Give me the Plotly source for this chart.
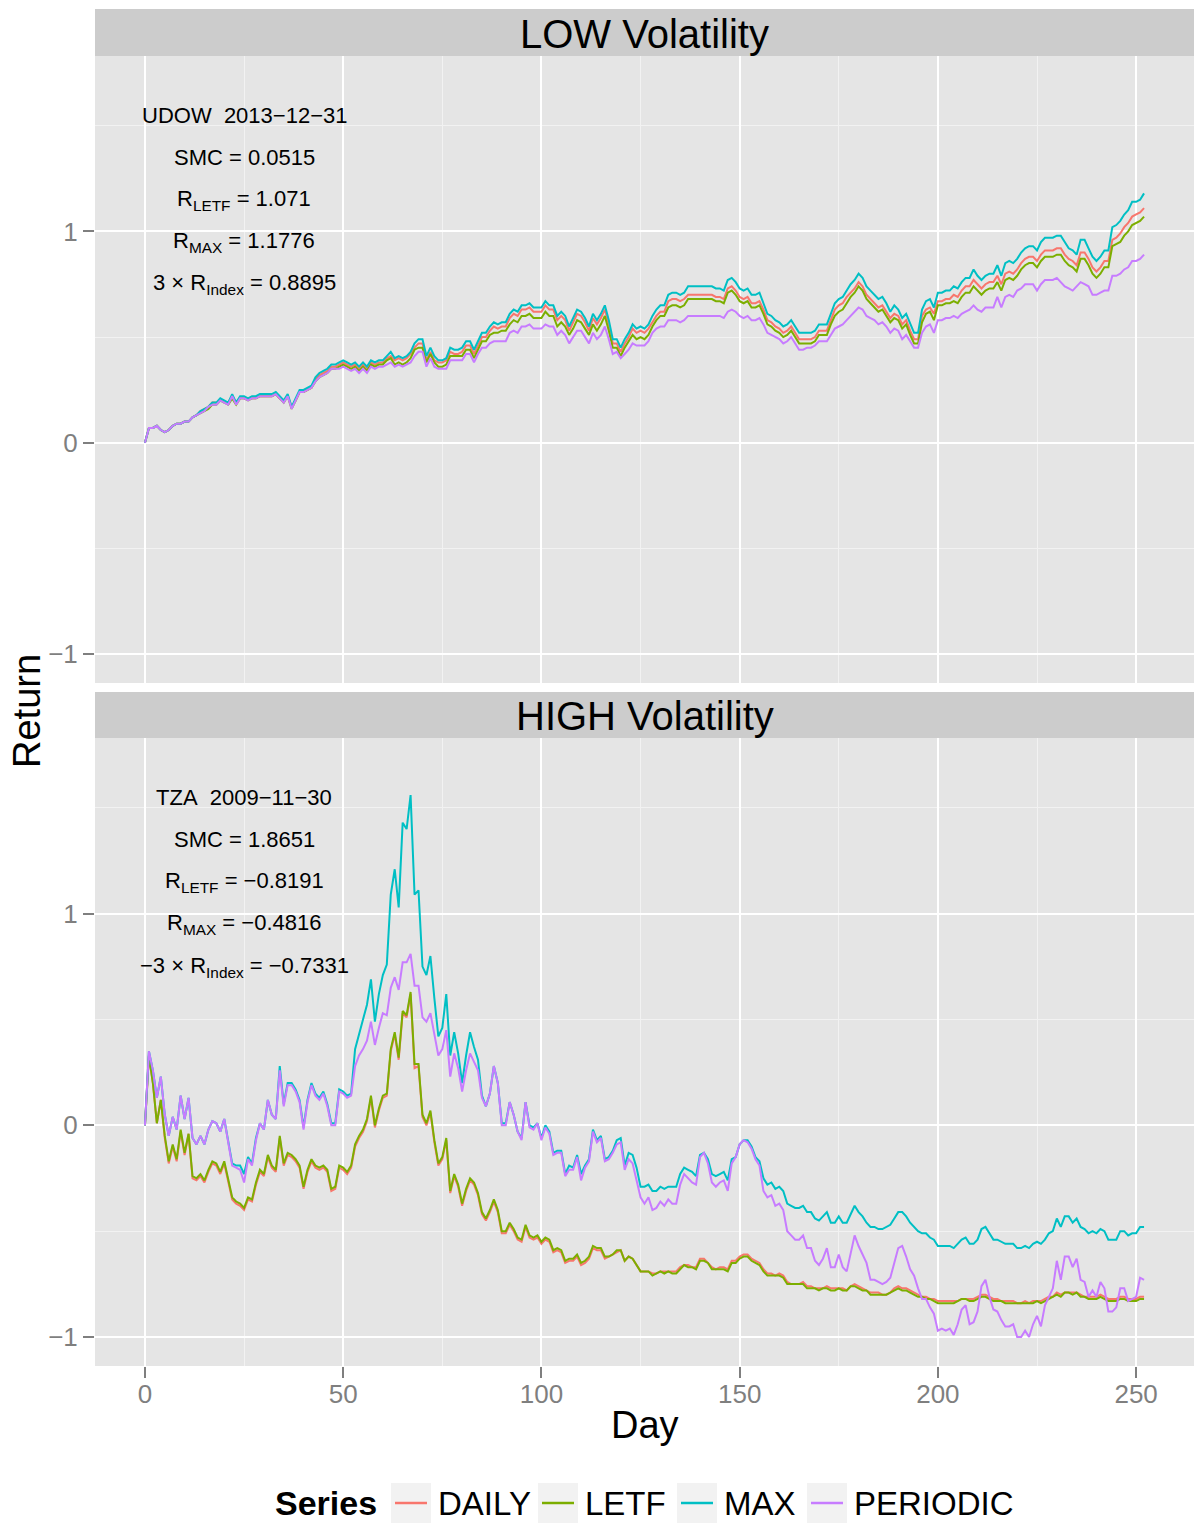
import plotly.graph_objects as go

W, H = 1195, 1524
FONT = "Liberation Sans, Arial, Helvetica, sans-serif"

days = list(range(253))
series_names = ["DAILY", "LETF", "MAX", "PERIODIC"]
series_colors = ["#F8766D", "#7CAE00", "#00BFC4", "#C77CFF"]

# LOW volatility panel (UDOW)
low_daily = [
    0.00, 0.07, 0.07, 0.08, 0.06, 0.05, 0.06, 0.08, 0.09, 0.09,
    0.10, 0.10, 0.12, 0.13, 0.15, 0.16, 0.17, 0.19, 0.19, 0.20,
    0.19, 0.19, 0.22, 0.19, 0.21, 0.21, 0.21, 0.21, 0.21, 0.22,
    0.22, 0.22, 0.22, 0.23, 0.21, 0.20, 0.22, 0.17, 0.20, 0.24,
    0.24, 0.25, 0.26, 0.30, 0.32, 0.33, 0.34, 0.36, 0.36, 0.37,
    0.38, 0.37, 0.36, 0.37, 0.35, 0.37, 0.35, 0.38, 0.37, 0.38,
    0.38, 0.40, 0.41, 0.39, 0.40, 0.39, 0.40, 0.42, 0.45, 0.47,
    0.47, 0.39, 0.43, 0.39, 0.38, 0.38, 0.39, 0.43, 0.42, 0.42,
    0.43, 0.46, 0.46, 0.42, 0.46, 0.50, 0.50, 0.53, 0.55, 0.54,
    0.55, 0.55, 0.59, 0.61, 0.60, 0.63, 0.63, 0.64, 0.62, 0.62,
    0.62, 0.65, 0.63, 0.63, 0.58, 0.60, 0.58, 0.53, 0.57, 0.61,
    0.60, 0.57, 0.53, 0.59, 0.56, 0.59, 0.63, 0.56, 0.47, 0.47,
    0.43, 0.47, 0.50, 0.54, 0.52, 0.53, 0.52, 0.54, 0.57, 0.60,
    0.62, 0.62, 0.67, 0.68, 0.68, 0.67, 0.68, 0.70, 0.70, 0.70,
    0.70, 0.70, 0.70, 0.70, 0.69, 0.69, 0.68, 0.73, 0.74, 0.72,
    0.69, 0.68, 0.69, 0.66, 0.66, 0.67, 0.63, 0.58, 0.57, 0.55,
    0.54, 0.52, 0.53, 0.55, 0.52, 0.49, 0.49, 0.49, 0.49, 0.50,
    0.53, 0.53, 0.53, 0.58, 0.63, 0.65, 0.66, 0.69, 0.71, 0.73,
    0.76, 0.74, 0.70, 0.68, 0.66, 0.64, 0.65, 0.62, 0.59, 0.61,
    0.60, 0.56, 0.58, 0.53, 0.49, 0.49, 0.60, 0.63, 0.64, 0.61,
    0.67, 0.67, 0.68, 0.68, 0.70, 0.69, 0.72, 0.74, 0.74, 0.77,
    0.75, 0.73, 0.75, 0.76, 0.76, 0.79, 0.75, 0.80, 0.81, 0.80,
    0.82, 0.85, 0.87, 0.88, 0.88, 0.86, 0.89, 0.91, 0.91, 0.91,
    0.92, 0.92, 0.89, 0.87, 0.86, 0.84, 0.90, 0.90, 0.87, 0.83,
    0.81, 0.83, 0.86, 0.86, 0.96, 0.97, 0.99, 1.02, 1.04, 1.07,
    1.08, 1.09, 1.11,
]
low_letf = [
    0.00, 0.07, 0.07, 0.08, 0.06, 0.05, 0.06, 0.08, 0.09, 0.09,
    0.10, 0.10, 0.12, 0.13, 0.14, 0.15, 0.16, 0.18, 0.18, 0.20,
    0.19, 0.18, 0.21, 0.18, 0.21, 0.21, 0.20, 0.21, 0.21, 0.22,
    0.22, 0.22, 0.22, 0.23, 0.21, 0.19, 0.22, 0.16, 0.20, 0.24,
    0.24, 0.25, 0.26, 0.29, 0.31, 0.32, 0.33, 0.35, 0.35, 0.36,
    0.37, 0.36, 0.35, 0.36, 0.34, 0.36, 0.34, 0.37, 0.36, 0.37,
    0.37, 0.39, 0.40, 0.37, 0.38, 0.37, 0.38, 0.40, 0.44, 0.45,
    0.45, 0.38, 0.42, 0.38, 0.36, 0.36, 0.37, 0.41, 0.41, 0.41,
    0.41, 0.44, 0.44, 0.40, 0.44, 0.48, 0.48, 0.51, 0.52, 0.52,
    0.53, 0.53, 0.56, 0.58, 0.57, 0.60, 0.60, 0.61, 0.59, 0.59,
    0.59, 0.62, 0.60, 0.60, 0.55, 0.57, 0.55, 0.51, 0.54, 0.58,
    0.57, 0.54, 0.51, 0.56, 0.53, 0.56, 0.60, 0.53, 0.45, 0.45,
    0.41, 0.45, 0.48, 0.51, 0.49, 0.50, 0.49, 0.51, 0.55, 0.58,
    0.60, 0.60, 0.64, 0.65, 0.65, 0.64, 0.65, 0.68, 0.68, 0.68,
    0.68, 0.68, 0.68, 0.68, 0.67, 0.67, 0.66, 0.71, 0.72, 0.70,
    0.67, 0.66, 0.67, 0.64, 0.64, 0.65, 0.61, 0.56, 0.55, 0.53,
    0.52, 0.50, 0.51, 0.53, 0.50, 0.47, 0.47, 0.47, 0.47, 0.48,
    0.51, 0.51, 0.51, 0.56, 0.60, 0.62, 0.63, 0.66, 0.69, 0.71,
    0.74, 0.72, 0.68, 0.66, 0.64, 0.62, 0.63, 0.60, 0.57, 0.59,
    0.58, 0.54, 0.56, 0.51, 0.47, 0.47, 0.57, 0.61, 0.62, 0.58,
    0.65, 0.65, 0.66, 0.66, 0.67, 0.66, 0.69, 0.71, 0.71, 0.74,
    0.72, 0.70, 0.72, 0.73, 0.73, 0.76, 0.72, 0.77, 0.78, 0.77,
    0.79, 0.82, 0.84, 0.85, 0.85, 0.83, 0.86, 0.88, 0.88, 0.88,
    0.89, 0.89, 0.86, 0.84, 0.83, 0.81, 0.87, 0.87, 0.84, 0.80,
    0.78, 0.80, 0.83, 0.83, 0.93, 0.94, 0.95, 0.98, 1.00, 1.03,
    1.04, 1.05, 1.07,
]
low_max = [
    0.00, 0.07, 0.07, 0.08, 0.06, 0.05, 0.06, 0.08, 0.09, 0.09,
    0.10, 0.10, 0.12, 0.13, 0.15, 0.16, 0.17, 0.19, 0.19, 0.21,
    0.20, 0.19, 0.23, 0.19, 0.22, 0.22, 0.21, 0.22, 0.22, 0.23,
    0.23, 0.23, 0.23, 0.24, 0.22, 0.20, 0.23, 0.17, 0.21, 0.25,
    0.25, 0.26, 0.27, 0.31, 0.33, 0.34, 0.35, 0.37, 0.37, 0.38,
    0.39, 0.38, 0.37, 0.38, 0.36, 0.38, 0.36, 0.39, 0.38, 0.39,
    0.39, 0.41, 0.43, 0.40, 0.41, 0.40, 0.41, 0.43, 0.47, 0.49,
    0.49, 0.41, 0.45, 0.41, 0.39, 0.39, 0.40, 0.45, 0.44, 0.44,
    0.45, 0.48, 0.48, 0.44, 0.48, 0.52, 0.52, 0.55, 0.57, 0.56,
    0.57, 0.57, 0.61, 0.63, 0.62, 0.65, 0.65, 0.66, 0.64, 0.64,
    0.64, 0.67, 0.65, 0.65, 0.60, 0.62, 0.60, 0.55, 0.59, 0.63,
    0.62, 0.59, 0.55, 0.61, 0.58, 0.61, 0.65, 0.58, 0.49, 0.49,
    0.45, 0.49, 0.52, 0.56, 0.54, 0.55, 0.54, 0.56, 0.60, 0.63,
    0.65, 0.65, 0.70, 0.71, 0.71, 0.70, 0.71, 0.74, 0.74, 0.74,
    0.74, 0.74, 0.74, 0.74, 0.73, 0.73, 0.72, 0.77, 0.78, 0.76,
    0.73, 0.72, 0.73, 0.70, 0.70, 0.71, 0.66, 0.61, 0.60, 0.58,
    0.57, 0.55, 0.56, 0.58, 0.55, 0.52, 0.52, 0.52, 0.52, 0.53,
    0.56, 0.56, 0.56, 0.61, 0.66, 0.68, 0.69, 0.72, 0.75, 0.77,
    0.80, 0.78, 0.74, 0.72, 0.70, 0.68, 0.69, 0.66, 0.62, 0.65,
    0.63, 0.59, 0.61, 0.56, 0.52, 0.52, 0.63, 0.67, 0.68, 0.64,
    0.71, 0.71, 0.72, 0.72, 0.74, 0.73, 0.76, 0.78, 0.78, 0.82,
    0.79, 0.77, 0.79, 0.80, 0.80, 0.84, 0.79, 0.85, 0.86, 0.85,
    0.87, 0.90, 0.92, 0.93, 0.93, 0.91, 0.95, 0.97, 0.97, 0.97,
    0.98, 0.98, 0.95, 0.92, 0.91, 0.89, 0.96, 0.96, 0.92, 0.88,
    0.86, 0.88, 0.91, 0.91, 1.02, 1.03, 1.05, 1.08, 1.10, 1.14,
    1.14, 1.15, 1.18,
]
low_periodic = [
    0.00, 0.07, 0.07, 0.08, 0.06, 0.05, 0.06, 0.08, 0.09, 0.09,
    0.10, 0.10, 0.12, 0.13, 0.14, 0.15, 0.17, 0.18, 0.18, 0.20,
    0.19, 0.18, 0.22, 0.18, 0.21, 0.21, 0.20, 0.21, 0.21, 0.22,
    0.22, 0.22, 0.22, 0.23, 0.21, 0.19, 0.22, 0.16, 0.20, 0.24,
    0.24, 0.25, 0.26, 0.29, 0.31, 0.32, 0.33, 0.35, 0.35, 0.35,
    0.36, 0.35, 0.34, 0.35, 0.33, 0.35, 0.33, 0.36, 0.35, 0.36,
    0.36, 0.37, 0.38, 0.36, 0.37, 0.36, 0.37, 0.38, 0.41, 0.43,
    0.43, 0.36, 0.40, 0.36, 0.35, 0.35, 0.35, 0.39, 0.39, 0.39,
    0.39, 0.42, 0.42, 0.38, 0.42, 0.45, 0.45, 0.47, 0.48, 0.48,
    0.48, 0.48, 0.52, 0.53, 0.52, 0.55, 0.55, 0.56, 0.54, 0.54,
    0.54, 0.56, 0.55, 0.55, 0.51, 0.53, 0.51, 0.47, 0.50, 0.53,
    0.53, 0.50, 0.47, 0.52, 0.49, 0.51, 0.55, 0.49, 0.42, 0.43,
    0.40, 0.42, 0.44, 0.47, 0.46, 0.46, 0.46, 0.48, 0.52, 0.54,
    0.55, 0.55, 0.58, 0.58, 0.58, 0.57, 0.58, 0.60, 0.60, 0.60,
    0.60, 0.60, 0.60, 0.60, 0.60, 0.60, 0.59, 0.62, 0.63, 0.62,
    0.60, 0.59, 0.60, 0.58, 0.58, 0.59, 0.56, 0.52, 0.51, 0.50,
    0.49, 0.47, 0.48, 0.50, 0.47, 0.44, 0.44, 0.45, 0.45, 0.46,
    0.48, 0.48, 0.48, 0.51, 0.54, 0.55, 0.56, 0.58, 0.60, 0.62,
    0.64, 0.63, 0.60, 0.59, 0.58, 0.56, 0.57, 0.55, 0.52, 0.54,
    0.53, 0.49, 0.51, 0.48, 0.45, 0.45, 0.52, 0.55, 0.56, 0.52,
    0.58, 0.58, 0.59, 0.59, 0.60, 0.59, 0.61, 0.62, 0.63, 0.65,
    0.63, 0.62, 0.64, 0.64, 0.64, 0.69, 0.64, 0.69, 0.70, 0.69,
    0.72, 0.73, 0.75, 0.75, 0.75, 0.72, 0.75, 0.77, 0.77, 0.77,
    0.78, 0.76, 0.74, 0.73, 0.72, 0.74, 0.76, 0.75, 0.74, 0.70,
    0.70, 0.71, 0.72, 0.72, 0.79, 0.79, 0.80, 0.82, 0.83, 0.86,
    0.86, 0.87, 0.89,
]

# HIGH volatility panel (TZA)
high_daily = [
    0.00, 0.33, 0.20, 0.01, 0.12, -0.06, -0.18, -0.10, -0.17, -0.03,
    -0.14, -0.04, -0.25, -0.26, -0.24, -0.27, -0.22, -0.18, -0.19, -0.23,
    -0.18, -0.27, -0.35, -0.37, -0.38, -0.40, -0.35, -0.36, -0.28, -0.22,
    -0.24, -0.15, -0.20, -0.22, -0.06, -0.19, -0.14, -0.15, -0.17, -0.20,
    -0.30, -0.22, -0.17, -0.20, -0.21, -0.20, -0.22, -0.31, -0.30, -0.20,
    -0.21, -0.23, -0.20, -0.10, -0.06, -0.03, 0.02, 0.13, -0.01, 0.07,
    0.13, 0.14, 0.35, 0.43, 0.31, 0.53, 0.51, 0.62, 0.27, 0.28,
    0.04, 0.00, 0.06, -0.08, -0.19, -0.16, -0.07, -0.32, -0.24, -0.29,
    -0.38, -0.31, -0.26, -0.28, -0.33, -0.42, -0.45, -0.41, -0.36, -0.41,
    -0.51, -0.51, -0.47, -0.50, -0.54, -0.55, -0.48, -0.53, -0.54, -0.53,
    -0.56, -0.54, -0.55, -0.60, -0.59, -0.60, -0.65, -0.64, -0.64, -0.62,
    -0.66, -0.65, -0.63, -0.58, -0.59, -0.59, -0.63, -0.62, -0.61, -0.60,
    -0.59, -0.64, -0.62, -0.63, -0.66, -0.69, -0.69, -0.69, -0.70, -0.70,
    -0.69, -0.69, -0.69, -0.69, -0.69, -0.67, -0.66, -0.66, -0.67, -0.67,
    -0.63, -0.63, -0.65, -0.67, -0.68, -0.67, -0.67, -0.68, -0.64, -0.64,
    -0.62, -0.61, -0.61, -0.63, -0.64, -0.65, -0.68, -0.70, -0.70, -0.71,
    -0.70, -0.71, -0.74, -0.75, -0.75, -0.75, -0.74, -0.76, -0.76, -0.77,
    -0.77, -0.77, -0.76, -0.77, -0.77, -0.77, -0.77, -0.78, -0.76, -0.75,
    -0.76, -0.77, -0.78, -0.79, -0.79, -0.79, -0.80, -0.80, -0.79, -0.77,
    -0.76, -0.77, -0.77, -0.78, -0.79, -0.80, -0.81, -0.81, -0.82, -0.82,
    -0.83, -0.83, -0.83, -0.83, -0.83, -0.83, -0.82, -0.82, -0.82, -0.82,
    -0.81, -0.80, -0.80, -0.81, -0.82, -0.82, -0.83, -0.83, -0.83, -0.83,
    -0.84, -0.84, -0.83, -0.84, -0.83, -0.83, -0.83, -0.82, -0.81, -0.81,
    -0.79, -0.80, -0.79, -0.79, -0.79, -0.79, -0.80, -0.81, -0.81, -0.81,
    -0.81, -0.80, -0.81, -0.82, -0.82, -0.82, -0.81, -0.81, -0.82, -0.82,
    -0.82, -0.81, -0.81,
]
high_letf = [
    0.00, 0.33, 0.20, 0.01, 0.12, -0.05, -0.17, -0.09, -0.16, -0.02,
    -0.13, -0.04, -0.24, -0.25, -0.23, -0.26, -0.21, -0.17, -0.18, -0.22,
    -0.17, -0.26, -0.34, -0.36, -0.37, -0.39, -0.34, -0.35, -0.27, -0.21,
    -0.23, -0.14, -0.19, -0.21, -0.05, -0.18, -0.13, -0.14, -0.16, -0.19,
    -0.29, -0.21, -0.16, -0.19, -0.20, -0.19, -0.21, -0.30, -0.29, -0.19,
    -0.20, -0.22, -0.19, -0.09, -0.05, -0.02, 0.03, 0.14, 0.00, 0.08,
    0.14, 0.15, 0.36, 0.44, 0.32, 0.54, 0.52, 0.63, 0.29, 0.29,
    0.05, 0.01, 0.07, -0.07, -0.18, -0.15, -0.06, -0.31, -0.23, -0.28,
    -0.37, -0.30, -0.25, -0.27, -0.32, -0.41, -0.44, -0.40, -0.35, -0.40,
    -0.50, -0.50, -0.46, -0.49, -0.53, -0.54, -0.47, -0.52, -0.53, -0.52,
    -0.55, -0.53, -0.54, -0.59, -0.58, -0.59, -0.64, -0.63, -0.63, -0.61,
    -0.65, -0.64, -0.62, -0.57, -0.58, -0.58, -0.62, -0.62, -0.61, -0.59,
    -0.59, -0.64, -0.62, -0.63, -0.66, -0.69, -0.69, -0.69, -0.71, -0.70,
    -0.69, -0.70, -0.69, -0.70, -0.70, -0.68, -0.66, -0.67, -0.67, -0.68,
    -0.64, -0.64, -0.65, -0.68, -0.68, -0.68, -0.68, -0.69, -0.65, -0.65,
    -0.63, -0.62, -0.62, -0.64, -0.65, -0.66, -0.69, -0.71, -0.71, -0.71,
    -0.71, -0.72, -0.75, -0.75, -0.75, -0.75, -0.75, -0.77, -0.77, -0.77,
    -0.78, -0.77, -0.77, -0.78, -0.78, -0.77, -0.78, -0.78, -0.76, -0.76,
    -0.77, -0.78, -0.78, -0.80, -0.80, -0.80, -0.80, -0.80, -0.79, -0.78,
    -0.77, -0.78, -0.78, -0.79, -0.80, -0.81, -0.81, -0.82, -0.82, -0.83,
    -0.84, -0.84, -0.84, -0.84, -0.84, -0.83, -0.82, -0.82, -0.83, -0.83,
    -0.82, -0.81, -0.81, -0.82, -0.83, -0.83, -0.83, -0.84, -0.84, -0.84,
    -0.84, -0.84, -0.84, -0.84, -0.84, -0.83, -0.84, -0.83, -0.82, -0.81,
    -0.80, -0.81, -0.79, -0.79, -0.80, -0.79, -0.81, -0.81, -0.82, -0.82,
    -0.82, -0.81, -0.82, -0.83, -0.83, -0.83, -0.82, -0.82, -0.83, -0.83,
    -0.83, -0.82, -0.82,
]
high_max = [
    0.00, 0.35, 0.26, 0.13, 0.23, 0.05, -0.05, 0.04, -0.02, 0.14,
    0.03, 0.13, -0.06, -0.09, -0.05, -0.09, -0.02, 0.02, 0.01, -0.03,
    0.03, -0.08, -0.18, -0.19, -0.19, -0.23, -0.15, -0.18, -0.06, 0.01,
    -0.02, 0.12, 0.05, 0.03, 0.28, 0.10, 0.20, 0.20, 0.17, 0.12,
    -0.01, 0.12, 0.20, 0.15, 0.13, 0.16, 0.10, 0.01, 0.01, 0.17,
    0.16, 0.14, 0.15, 0.36, 0.43, 0.50, 0.57, 0.69, 0.49, 0.62,
    0.71, 0.76, 1.09, 1.21, 1.03, 1.43, 1.40, 1.56, 1.09, 1.11,
    0.75, 0.71, 0.80, 0.60, 0.42, 0.46, 0.62, 0.33, 0.44, 0.34,
    0.20, 0.33, 0.44, 0.37, 0.31, 0.14, 0.09, 0.15, 0.28, 0.20,
    0.01, 0.01, 0.11, 0.05, -0.03, -0.06, 0.11, 0.00, -0.01, 0.01,
    -0.06, 0.00, -0.03, -0.13, -0.12, -0.12, -0.23, -0.19, -0.20, -0.14,
    -0.23, -0.19, -0.16, -0.02, -0.07, -0.05, -0.16, -0.15, -0.12, -0.07,
    -0.06, -0.19, -0.13, -0.14, -0.20, -0.29, -0.29, -0.28, -0.31, -0.31,
    -0.29, -0.30, -0.29, -0.29, -0.29, -0.23, -0.20, -0.21, -0.22, -0.24,
    -0.14, -0.13, -0.16, -0.23, -0.24, -0.23, -0.22, -0.26, -0.16, -0.15,
    -0.09, -0.07, -0.07, -0.10, -0.15, -0.17, -0.25, -0.28, -0.27, -0.30,
    -0.29, -0.31, -0.37, -0.38, -0.39, -0.39, -0.38, -0.41, -0.41, -0.44,
    -0.45, -0.43, -0.41, -0.46, -0.46, -0.43, -0.46, -0.46, -0.42, -0.38,
    -0.41, -0.43, -0.46, -0.48, -0.48, -0.49, -0.49, -0.48, -0.47, -0.44,
    -0.41, -0.41, -0.43, -0.46, -0.48, -0.50, -0.51, -0.51, -0.53, -0.54,
    -0.57, -0.57, -0.57, -0.57, -0.58, -0.56, -0.54, -0.53, -0.56, -0.56,
    -0.54, -0.49, -0.48, -0.51, -0.54, -0.54, -0.55, -0.56, -0.56, -0.56,
    -0.58, -0.58, -0.57, -0.58, -0.56, -0.55, -0.56, -0.54, -0.51, -0.50,
    -0.44, -0.48, -0.43, -0.43, -0.46, -0.44, -0.48, -0.49, -0.51, -0.50,
    -0.51, -0.49, -0.50, -0.54, -0.54, -0.54, -0.50, -0.50, -0.52, -0.51,
    -0.51, -0.48, -0.48,
]
high_periodic = [
    0.00, 0.35, 0.26, 0.13, 0.23, 0.05, -0.05, 0.04, -0.02, 0.14,
    0.03, 0.13, -0.06, -0.09, -0.05, -0.09, -0.02, 0.02, 0.01, -0.03,
    0.03, -0.08, -0.19, -0.20, -0.21, -0.27, -0.16, -0.19, -0.07, 0.01,
    -0.02, 0.12, 0.05, 0.03, 0.26, 0.09, 0.19, 0.19, 0.16, 0.11,
    -0.02, 0.11, 0.19, 0.14, 0.12, 0.15, 0.09, 0.00, 0.00, 0.16,
    0.15, 0.13, 0.14, 0.28, 0.33, 0.36, 0.40, 0.49, 0.38, 0.46,
    0.53, 0.52, 0.65, 0.70, 0.64, 0.77, 0.77, 0.81, 0.66, 0.66,
    0.51, 0.49, 0.53, 0.43, 0.33, 0.36, 0.45, 0.23, 0.34, 0.27,
    0.16, 0.26, 0.34, 0.30, 0.26, 0.13, 0.09, 0.15, 0.28, 0.20,
    0.00, 0.00, 0.11, 0.05, -0.03, -0.07, 0.11, -0.01, -0.02, 0.01,
    -0.07, -0.01, -0.04, -0.14, -0.13, -0.13, -0.24, -0.21, -0.21, -0.15,
    -0.26, -0.20, -0.17, -0.03, -0.08, -0.06, -0.17, -0.16, -0.13, -0.09,
    -0.08, -0.21, -0.16, -0.18, -0.26, -0.34, -0.37, -0.34, -0.40, -0.39,
    -0.36, -0.38, -0.35, -0.37, -0.37, -0.28, -0.23, -0.25, -0.27, -0.28,
    -0.15, -0.13, -0.18, -0.27, -0.29, -0.27, -0.26, -0.31, -0.18, -0.15,
    -0.09, -0.07, -0.08, -0.11, -0.16, -0.19, -0.31, -0.34, -0.33, -0.38,
    -0.37, -0.40, -0.50, -0.52, -0.54, -0.54, -0.52, -0.58, -0.58, -0.64,
    -0.66, -0.63, -0.58, -0.67, -0.67, -0.61, -0.67, -0.69, -0.60, -0.52,
    -0.57, -0.61, -0.65, -0.73, -0.73, -0.74, -0.75, -0.74, -0.72, -0.65,
    -0.58, -0.57, -0.62, -0.68, -0.71, -0.77, -0.82, -0.82, -0.86, -0.89,
    -0.97, -0.96, -0.97, -0.96, -0.99, -0.94, -0.87, -0.85, -0.94, -0.93,
    -0.88, -0.76, -0.73, -0.81, -0.87, -0.88, -0.92, -0.95, -0.95, -0.94,
    -1.00, -1.00, -0.97, -1.00, -0.94, -0.90, -0.95, -0.85, -0.81, -0.77,
    -0.64, -0.73, -0.62, -0.62, -0.67, -0.63, -0.73, -0.74, -0.81, -0.78,
    -0.81, -0.74, -0.77, -0.88, -0.88, -0.86, -0.77, -0.77, -0.83, -0.82,
    -0.81, -0.72, -0.73,
]

panel_titles = ["LOW Volatility", "HIGH Volatility"]
low_notes = [
    "UDOW\u00a0\u00a02013\u221212\u221231",
    "SMC = 0.0515",
    "R<sub>LETF</sub> = 1.071",
    "R<sub>MAX</sub> = 1.1776",
    "3 \u00d7 R<sub>Index</sub> = 0.8895",
]
high_notes = [
    "TZA\u00a0\u00a02009\u221211\u221230",
    "SMC = 1.8651",
    "R<sub>LETF</sub> = \u22120.8191",
    "R<sub>MAX</sub> = \u22120.4816",
    "\u22123 \u00d7 R<sub>Index</sub> = \u22120.7331",
]
note_day = 25
note_y = [1.55, 1.35, 1.15, 0.95, 0.75]

x_ticks = [0, 50, 100, 150, 200, 250]
x_minor = [25, 75, 125, 175, 225]
y_ticks = [-1, 0, 1]
y_tick_text = ["\u22121", "0", "1"]
y_minor = [-0.5, 0.5, 1.5]

panels = [
    [low_daily, low_letf, low_max, low_periodic],
    [high_daily, high_letf, high_max, high_periodic],
]
for p in panels:
    for s in p:
        assert len(s) == len(days), len(s)


def fx(px):
    return px / W


def fy(py):
    return 1 - py / H


fig = go.Figure()

axis_ids = [("x", "y"), ("x2", "y2")]
for (xa, ya), series in zip(axis_ids, panels):
    for name, color, vals in zip(series_names, series_colors, series):
        fig.add_trace(go.Scatter(
            x=days, y=vals, mode="lines", name=name,
            line=dict(color=color, width=2),
            xaxis=xa, yaxis=ya, showlegend=False,
        ))

tick_font = dict(family=FONT, size=26, color="#7F7F7F")
x_common = dict(
    range=[-12.6, 264.6], domain=[fx(95), fx(1194)],
    tickvals=x_ticks, showgrid=True, gridcolor="white", gridwidth=2.2,
    zeroline=False, showline=False,
    minor=dict(tickvals=x_minor, showgrid=True, gridcolor="#F2F2F2", gridwidth=1.1),
)
y_common = dict(
    range=[-1.137, 1.83], tickvals=y_ticks, ticktext=y_tick_text,
    showgrid=True, gridcolor="white", gridwidth=2.2, zeroline=False, showline=False,
    ticks="outside", ticklen=11, tickwidth=2, tickcolor="#7F7F7F",
    tickfont=tick_font,
    minor=dict(tickvals=y_minor, showgrid=True, gridcolor="#F2F2F2", gridwidth=1.1),
)

fig.update_layout(
    width=W, height=H,
    margin=dict(l=0, r=0, t=0, b=0),
    paper_bgcolor="white", plot_bgcolor="#E5E5E5",
    font=dict(family=FONT, color="black"),
    showlegend=False,
    xaxis=dict(**x_common, anchor="y", showticklabels=False, ticks=""),
    yaxis=dict(**y_common, anchor="x", domain=[fy(683), fy(56)]),
    xaxis2=dict(**x_common, anchor="y2", ticks="outside", ticklen=11, tickwidth=2,
                tickcolor="#7F7F7F", tickfont=tick_font, ticklabelstandoff=-6),
    yaxis2=dict(**y_common, anchor="x2", domain=[fy(1366), fy(738)]),
)

shapes = []
annotations = []

# facet strips
for title, (top, bottom) in zip(panel_titles, [(9, 56), (692, 738)]):
    shapes.append(dict(type="rect", xref="paper", yref="paper",
                       x0=fx(95), x1=fx(1194), y0=fy(bottom), y1=fy(top),
                       fillcolor="#CCCCCC", line=dict(width=0)))
    annotations.append(dict(text=title, xref="paper", yref="paper",
                            x=fx((95 + 1194) / 2), y=fy((top + bottom) / 2 + 1),
                            showarrow=False, xanchor="center", yanchor="middle",
                            font=dict(size=40, color="black", family=FONT)))

# in-panel notes
for (xa, ya), notes in zip(axis_ids, [low_notes, high_notes]):
    for txt, yv in zip(notes, note_y):
        annotations.append(dict(text=txt, xref=xa, yref=ya, x=note_day, y=yv,
                                showarrow=False, xanchor="center", yanchor="middle",
                                font=dict(size=22, color="black", family=FONT)))

# axis titles
annotations.append(dict(text="Day", xref="paper", yref="paper",
                        x=fx((95 + 1194) / 2), y=fy(1425), showarrow=False,
                        xanchor="center", yanchor="middle",
                        font=dict(size=38, color="black", family=FONT)))
annotations.append(dict(text="Return", xref="paper", yref="paper",
                        x=fx(27), y=fy(711), showarrow=False, textangle=-90,
                        xanchor="center", yanchor="middle",
                        font=dict(size=38, color="black", family=FONT)))

# legend drawn by hand to keep ggplot-style key boxes
legend_y = 1503
annotations.append(dict(text="<b>Series</b>", xref="paper", yref="paper",
                        x=fx(273), y=fy(legend_y), showarrow=False,
                        xanchor="left", yanchor="middle",
                        font=dict(size=34, color="black", family=FONT)))
key_left = [391, 538, 677, 807]
for name, color, kx in zip(series_names, series_colors, key_left):
    shapes.append(dict(type="rect", xref="paper", yref="paper",
                       x0=fx(kx), x1=fx(kx + 40), y0=fy(legend_y + 20), y1=fy(legend_y - 20),
                       fillcolor="#F2F2F2", line=dict(width=0)))
    shapes.append(dict(type="line", xref="paper", yref="paper",
                       x0=fx(kx + 4), x1=fx(kx + 36), y0=fy(legend_y), y1=fy(legend_y),
                       line=dict(color=color, width=2.5)))
    annotations.append(dict(text=name, xref="paper", yref="paper",
                            x=fx(kx + 45), y=fy(legend_y), showarrow=False,
                            xanchor="left", yanchor="middle",
                            font=dict(size=33, color="black", family=FONT)))

fig.update_layout(shapes=shapes, annotations=annotations)
fig.write_html(
    "out.html",
    config={"displayModeBar": False},
    post_script="document.body.style.margin='0';document.body.style.padding='0';"
                "document.documentElement.style.overflow='hidden';",
)
